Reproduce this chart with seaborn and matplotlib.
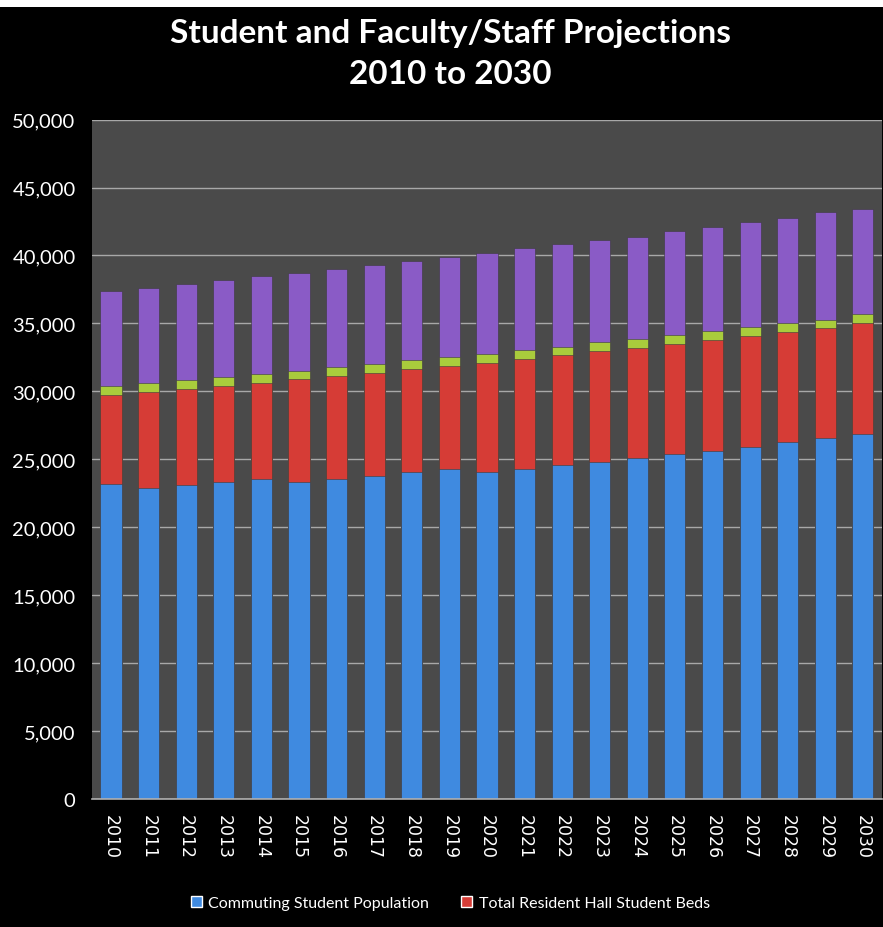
import matplotlib
matplotlib.use("Agg")
import matplotlib.pyplot as plt
from matplotlib.patches import Patch, Rectangle
from matplotlib.ticker import FuncFormatter
import numpy as np
import pandas as pd
import seaborn as sns

years = [str(y) for y in range(2010, 2031)]
commuting = [23150, 22870, 23090, 23310, 23530, 23310, 23530, 23750, 24070, 24270,
             24070, 24270, 24590, 24830, 25080, 25420, 25640, 25940, 26250, 26550, 26840]
resident_beds = [6550, 7080, 7110, 7090, 7120, 7565, 7570, 7575, 7555, 7605,
                 8030, 8105, 8060, 8120, 8120, 8055, 8135, 8135, 8125, 8100, 8160]
other_beds = [675, 675, 650, 675, 650, 650, 675, 675, 675, 650,
              650, 675, 650, 650, 625, 675, 650, 675, 675, 625, 675]
faculty_staff = [7010, 6980, 7070, 7140, 7160, 7200, 7250, 7320, 7310, 7400,
                 7460, 7470, 7510, 7530, 7570, 7640, 7660, 7680, 7700, 7890, 7760]

series_names = ["Commuting Student Population", "Total Resident Hall Student Beds",
                "Other Student Beds", "Faculty/Staff"]
colors = ["#3f8ae0", "#d63c36", "#a9cc3c", "#8a5bc6"]

df = pd.DataFrame({"Year": years,
                   series_names[0]: commuting,
                   series_names[1]: resident_beds,
                   series_names[2]: other_beds,
                   series_names[3]: faculty_staff})
cum = df[series_names].cumsum(axis=1)

sns.set_theme(style="dark")
plt.rcParams['font.family'] = ['Lato', 'DejaVu Sans']

fig = plt.figure(figsize=(8.83, 9.28), dpi=100, facecolor="black")
ax = fig.add_axes([0.1044, 0.138, 0.8942, 0.732])
ax.set_facecolor("#4a4a4a")

# draw cumulative layers from the top down so each lower layer covers the previous
for name, col in reversed(list(zip(series_names, colors))):
    sns.barplot(x=df["Year"], y=cum[name], color=col, width=0.56,
                saturation=1, ax=ax, edgecolor="#3a3a3a", linewidth=0.4)

ax.set_ylim(0, 50000)
ax.set_yticks(np.arange(0, 50001, 5000))
ax.yaxis.set_major_formatter(FuncFormatter(lambda v, p: f"{int(v):,}"))
ax.grid(axis="y", color="#a8a8a8", linewidth=1.0)
ax.grid(axis="x", visible=False)
ax.set_axisbelow(True)
ax.set_xlabel("")
ax.set_ylabel("")
for s in ["top", "right", "left"]:
    ax.spines[s].set_visible(False)
ax.spines["bottom"].set_color("#b0b0b0")
ax.spines["bottom"].set_linewidth(1.2)

ax.tick_params(axis="y", colors="white", labelsize=14.5, pad=12, length=0)
ax.tick_params(axis="x", colors="white", length=0, pad=11)
for lab in ax.get_xticklabels():
    lab.set_rotation(270)
    lab.set_fontfamily("DejaVu Sans")
    lab.set_fontsize(12.5)
    lab.set_va("top")
    lab.set_ha("center")

fig.text(0.51, 0.964, "Student and Faculty/Staff Projections", ha="center", va="center",
         color="white", fontsize=24, fontweight="bold")
fig.text(0.51, 0.920, "2010 to 2030", ha="center", va="center",
         color="white", fontsize=24, fontweight="bold")

handles = [Patch(facecolor=colors[0], label=series_names[0]),
           Patch(facecolor=colors[1], label=series_names[1])]
leg = fig.legend(handles=handles, loc="center", bbox_to_anchor=(0.51, 0.026), ncol=2,
                 frameon=False, fontsize=11.5, labelcolor="white", handlelength=0.7,
                 handleheight=0.7, handletextpad=0.4, columnspacing=2.0)

fig.patches.append(Rectangle((0, 1 - 8 / 928), 1, 8 / 928, transform=fig.transFigure,
                             facecolor="white", edgecolor="none", zorder=10))

fig.savefig("out.png", dpi=100, facecolor="black")
